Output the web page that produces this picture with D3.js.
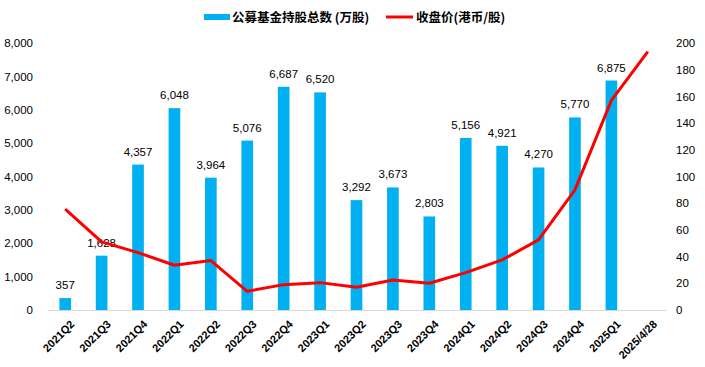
<!DOCTYPE html>
<html>
<head>
<meta charset="utf-8">
<script src="https://cdn.jsdelivr.net/npm/d3@7"></script>
<style>
  body { margin: 0; background: #fff; }
  text { font-family: "Liberation Sans Narrow", "Liberation Sans", Arial, sans-serif; fill: #000; }
  .legend text { font-family: "Noto Sans CJK SC", sans-serif; font-weight: bold; }
</style>
</head>
<body>
<svg width="705" height="367"></svg>
<script>
const categories = ["2021Q2", "2021Q3", "2021Q4", "2022Q1", "2022Q2", "2022Q3", "2022Q4", "2023Q1",
    "2023Q2", "2023Q3", "2023Q4", "2024Q1", "2024Q2", "2024Q3", "2024Q4", "2025Q1", "2025/4/28"];
const holdings = [357, 1628, 4357, 6048, 3964, 5076, 6687, 6520,
    3292, 3673, 2803, 5156, 4921, 4270, 5770, 6875, null];
const closePrice = [75.5, 51, 43, 33.5, 37, 14, 19, 20.5,
    17, 22.5, 20, 28, 37.5, 52.5, 90, 157, 193.5];
const leftTicks = [0, 1000, 2000, 3000, 4000, 5000, 6000, 7000, 8000];
const rightTicks = [0, 20, 40, 60, 80, 100, 120, 140, 160, 180, 200];

const barColor = "#00B0F0";
const lineColor = "#FF0000";

const margin = {top: 43, right: 39, bottom: 57, left: 47};
const width = 705 - margin.left - margin.right;
const height = 367 - margin.top - margin.bottom;

let svg = d3.select("svg");
let g = svg.append("g").attr("transform", "translate(" + margin.left + "," + margin.top + ")");

let x = d3.scaleBand().domain(categories).range([0, width]).paddingInner(0.68).paddingOuter(0.34);
let yL = d3.scaleLinear().domain([0, 8000]).range([height, 0]);
let yR = d3.scaleLinear().domain([0, 200]).range([height, 0]);

// axes
let axL = g.append("g").call(d3.axisLeft(yL).tickValues(leftTicks).tickSize(0).tickPadding(14)
    .tickFormat(d3.format(",")));
axL.select(".domain").remove();
axL.selectAll("text").attr("font-size", 11.5).style("font-family", null);

let axR = g.append("g").attr("transform", "translate(" + width + ",0)")
    .call(d3.axisRight(yR).tickValues(rightTicks).tickSize(0).tickPadding(10));
axR.select(".domain").remove();
axR.selectAll("text").attr("font-size", 11.5).style("font-family", null);

// bars
let barData = categories.map((c, i) => [c, holdings[i]]).filter(d => d[1] != null);

g.selectAll(".bar")
    .data(barData)
    .enter().append("rect")
    .attr("class", "bar")
    .attr("fill", barColor)
    .attr("x", d => x(d[0]))
    .attr("y", d => yL(d[1]))
    .attr("width", x.bandwidth())
    .attr("height", d => height - yL(d[1]));

g.selectAll(".barLabel")
    .data(barData)
    .enter().append("text")
    .attr("class", "barLabel")
    .attr("text-anchor", "middle")
    .attr("font-size", 11.5)
    .attr("x", d => x(d[0]) + x.bandwidth() / 2)
    .attr("y", d => yL(d[1]) - 9)
    .text(d => d3.format(",")(d[1]));

// baseline
let axB = g.append("g").attr("transform", "translate(0," + height + ")")
    .call(d3.axisBottom(x).tickSize(0).tickPadding(6));
axB.select(".domain").attr("stroke", "#d9d9d9").attr("stroke-width", 1.2);
axB.selectAll("text")
    .style("font-family", null)
    .attr("font-size", 11)
    .attr("font-weight", "bold")
    .attr("text-anchor", "end")
    .attr("dy", "0.35em")
    .attr("transform", "translate(3,8) rotate(-45)");

// line
let line = d3.line()
    .x((d, i) => x(categories[i]) + x.bandwidth() / 2)
    .y(d => yR(d));
g.append("path")
    .datum(closePrice)
    .attr("fill", "none")
    .attr("stroke", lineColor)
    .attr("stroke-width", 3)
    .attr("stroke-linejoin", "round")
    .attr("d", line);

// legend
let legend = svg.append("g").attr("class", "legend");
legend.append("rect").attr("x", 204).attr("y", 14).attr("width", 26).attr("height", 6).attr("fill", barColor);
legend.append("text").attr("x", 232).attr("y", 22).attr("font-size", 12.5).text("公募基金持股总数 (万股)");
legend.append("line").attr("x1", 386).attr("x2", 413).attr("y1", 17).attr("y2", 17)
    .attr("stroke", lineColor).attr("stroke-width", 3);
legend.append("text").attr("x", 416).attr("y", 22).attr("font-size", 12.5).text("收盘价(港币/股)");
</script>
</body>
</html>
